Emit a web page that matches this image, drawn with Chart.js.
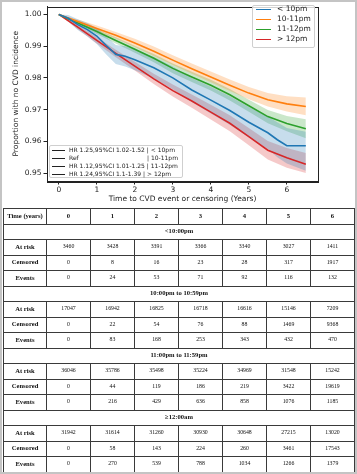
<!DOCTYPE html>
<html><head><meta charset="utf-8">
<script src="https://cdn.jsdelivr.net/npm/chart.js@4.4.0/dist/chart.umd.min.js"></script>
<style>
html,body{margin:0;padding:0;background:#fff;}
#wrap{position:relative;width:357px;height:474px;overflow:hidden;background:#fff;}
#c{position:absolute;left:0;top:0;}
.frame{position:absolute;left:0;top:0;width:357px;height:474px;box-sizing:border-box;border:2px solid #c4c4c4;pointer-events:none;}
.leg{position:absolute;background:rgba(255,255,255,0.8);border:1px solid #cfcfcf;border-radius:2px;box-sizing:border-box;font-family:"DejaVu Sans";color:#222;}
.leg .it{position:absolute;left:0;white-space:pre;line-height:1;}
.leg .ln{position:absolute;height:0;}
#tbl{position:absolute;left:3px;top:208px;width:351px;height:264px;border-collapse:collapse;table-layout:fixed;font-family:"Liberation Serif";color:#111;}
#tbl tr{height:15.5px;}
#tbl td{border:1px solid #3a3a3a;padding:0;text-align:center;vertical-align:middle;font-size:5.8px;line-height:1;height:1px;overflow:hidden;}
#tbl td.b{font-weight:bold;font-size:6.6px;}
</style></head>
<body>
<div id="wrap">
<canvas id="c" width="357" height="206"></canvas>
<div class="leg" id="legR" style="left:252px;top:5px;width:63px;height:43px;"></div>
<div class="leg" id="legL" style="left:49px;top:145px;width:134px;height:33px;"></div>
<table id="tbl"></table>
<div class="frame"></div>
</div>
<script>
// ---------- chart data ----------
const groups = ['< 10pm', '10-11pm', '11-12pm', '> 12pm'];
const hrLabels = ['HR 1.25,95%CI 1.02-1.52', 'Ref', 'HR 1.12,95%CI 1.01-1.25', 'HR 1.24,95%CI 1.1-1.39'];
const xTicks = [0, 1, 2, 3, 4, 5, 6];
const yTicks = [0.95, 0.96, 0.97, 0.98, 0.99, 1.00];

const timesBlue = [0, 0.25, 0.5, 0.75, 1, 1.25, 1.5, 1.75, 2, 2.5, 3, 3.5, 4, 4.5, 5, 5.5, 5.75, 6, 6.5];
const blueLine  = [1, .9988, .9968, .9952, .9932, .9902, .9874, .9868, .9857, .9832, .9800, .9762, .9730, .9697, .9660, .9627, .9605, .9586, .9586];
const blueUpper = [1, .9998, .9985, .9973, .9957, .9930, .9904, .9900, .9890, .9866, .9836, .9800, .9772, .9742, .9708, .9678, .9660, .9642, .9630];
const blueLower = [1, .9978, .9951, .9931, .9907, .9874, .9844, .9836, .9824, .9798, .9764, .9724, .9688, .9652, .9612, .9576, .9550, .9530, .9507];

const times = [0, 0.5, 1, 1.5, 2, 2.5, 3, 3.5, 4, 4.5, 5, 5.5, 6, 6.5];
const orangeLine  = [1, .9978, .9956, .9934, .9910, .9884, .9856, .9829, .9803, .9777, .9752, .9731, .9718, .9710];
const orangeUpper = [1, .9984, .9965, .9945, .9923, .9899, .9871, .9845, .9820, .9795, .9771, .9752, .9742, .9738];
const orangeLower = [1, .9972, .9947, .9923, .9897, .9869, .9841, .9813, .9786, .9759, .9733, .9710, .9694, .9682];

const greenLine  = [1, .9973, .9946, .9918, .9890, .9862, .9830, .9803, .9777, .9747, .9712, .9678, .9656, .9640];
const greenUpper = [1, .9979, .9954, .9928, .9901, .9875, .9845, .9819, .9794, .9765, .9731, .9699, .9680, .9670];
const greenLower = [1, .9967, .9938, .9908, .9879, .9849, .9815, .9787, .9760, .9729, .9693, .9657, .9632, .9610];

const redLine  = [1, .9960, .9918, .9877, .9837, .9797, .9760, .9727, .9692, .9657, .9615, .9572, .9548, .9528];
const redUpper = [1, .9967, .9928, .9889, .9851, .9813, .9779, .9748, .9715, .9682, .9642, .9601, .9579, .9563];
const redLower = [1, .9953, .9908, .9865, .9823, .9781, .9741, .9706, .9669, .9632, .9588, .9543, .9517, .9500];

// ---------- table data ----------
const tableYears = [0, 1, 2, 3, 4, 5, 6];
const tableGroups = ['<10:00pm', '10:00pm to 10:59pm', '11:00pm to 11:59pm', '\u226512:00am'];
const atRisk = [
  [3460, 3428, 3391, 3366, 3340, 3027, 1411],
  [17047, 16942, 16825, 16718, 16616, 15146, 7209],
  [36046, 35786, 35498, 35224, 34969, 31548, 15242],
  [31942, 31614, 31260, 30930, 30648, 27215, 13020]
];
const censored = [
  [0, 8, 16, 23, 28, 317, 1917],
  [0, 22, 54, 76, 88, 1469, 9368],
  [0, 44, 119, 186, 219, 3422, 19619],
  [0, 58, 143, 224, 260, 3461, 17543]
];
const events = [
  [0, 24, 53, 71, 92, 116, 132],
  [0, 83, 168, 253, 343, 432, 470],
  [0, 216, 429, 636, 858, 1076, 1185],
  [0, 270, 539, 788, 1034, 1266, 1379]
];

const colors = ['#1f77b4', '#ff7f0e', '#2ca02c', '#d62728'];
const fills = ['rgba(31,119,180,0.25)', 'rgba(255,127,14,0.25)', 'rgba(44,160,44,0.25)', 'rgba(214,39,40,0.25)'];

const series = [
  {t: timesBlue, line: blueLine, up: blueUpper, lo: blueLower},
  {t: times, line: orangeLine, up: orangeUpper, lo: orangeLower},
  {t: times, line: greenLine, up: greenUpper, lo: greenLower},
  {t: times, line: redLine, up: redUpper, lo: redLower}
];
const pts = (t, a) => t.map((x, i) => ({x: x, y: a[i]}));

const datasets = [];
series.forEach((s, k) => {
  datasets.push({label: groups[k] + ' lo', data: pts(s.t, s.lo), borderWidth: 0, borderColor: 'rgba(0,0,0,0)', pointRadius: 0, fill: false, order: 2});
  datasets.push({label: groups[k] + ' hi', data: pts(s.t, s.up), borderWidth: 0, borderColor: 'rgba(0,0,0,0)', pointRadius: 0, fill: '-1', backgroundColor: fills[k], order: 2});
});
series.forEach((s, k) => {
  datasets.push({label: groups[k], data: pts(s.t, s.line), borderWidth: 1.6, borderColor: colors[k], pointRadius: 0, fill: false, order: 0});
});

const frame = {
  id: 'frame',
  afterDraw(chart) {
    const a = chart.chartArea, ctx = chart.ctx;
    ctx.save();
    ctx.strokeStyle = '#222';
    ctx.lineWidth = 1;
    ctx.strokeRect(Math.round(a.left) + 0.5, Math.round(a.top) + 0.5, Math.round(a.right - a.left), Math.round(a.bottom - a.top));
    ctx.restore();
  }
};

const tickFont = {family: 'DejaVu Sans', size: 7.5};
new Chart(document.getElementById('c'), {
  type: 'line',
  data: {datasets: datasets},
  plugins: [frame],
  options: {
    responsive: false, animation: false, devicePixelRatio: 1,
    layout: {padding: {left: 0, top: 3, right: 39, bottom: 0}},
    plugins: {legend: {display: false}, tooltip: {enabled: false}},
    elements: {line: {tension: 0}},
    scales: {
      x: {
        type: 'linear', min: -0.31, max: 6.82,
        afterFit(s) { s.height = 25; },
        afterBuildTicks(s) { s.ticks = xTicks.map(v => ({value: v})); },
        ticks: {font: tickFont, color: '#222', padding: 1, maxRotation: 0, callback: v => String(v)},
        grid: {display: true, drawOnChartArea: false, drawTicks: true, tickLength: 3.5, color: '#222'},
        border: {display: true, color: '#222'},
        title: {display: true, text: 'Time to CVD event or censoring (Years)', font: tickFont, color: '#222', padding: {top: 0, bottom: 2}}
      },
      y: {
        type: 'linear', min: 0.9475, max: 1.0025,
        afterFit(s) { s.width = 47; },
        afterBuildTicks(s) { s.ticks = yTicks.map(v => ({value: v})); },
        ticks: {font: tickFont, color: '#222', padding: 2, callback: v => v.toFixed(2)},
        grid: {display: true, drawOnChartArea: false, drawTicks: true, tickLength: 3.5, color: '#222'},
        border: {display: true, color: '#222'},
        title: {display: true, text: 'Proportion with no CVD incidence', font: tickFont, color: '#222', padding: {top: 12, bottom: 0}}
      }
    }
  }
});

// ---------- legends ----------
const legR = document.getElementById('legR');
groups.forEach((g, k) => {
  const cy = 6.7 + k * 10 - 5;
  const ln = document.createElement('div');
  ln.className = 'ln';
  ln.style.cssText = `left:3px;top:${cy + 1}px;width:15px;border-top:1.5px solid ${colors[k]};`;
  legR.appendChild(ln);
  const it = document.createElement('div');
  it.className = 'it';
  it.style.cssText = `left:24px;top:${cy - 3}px;font-size:7.5px;`;
  it.textContent = g;
  legR.appendChild(it);
});
const legL = document.getElementById('legL');
hrLabels.forEach((h, k) => {
  const cy = 4.3 + k * 8;
  const ln = document.createElement('div');
  ln.className = 'ln';
  ln.style.cssText = `left:2px;top:${cy}px;width:13px;border-top:1.5px solid #222;`;
  legL.appendChild(ln);
  const it = document.createElement('div');
  it.className = 'it';
  it.style.cssText = `left:19px;top:${cy - 3.2}px;font-size:6px;`;
  if (h === 'Ref') {
    const a = document.createElement('span'); a.textContent = h;
    const b = document.createElement('span'); b.textContent = '| ' + groups[k];
    b.style.cssText = 'position:absolute;left:78px;top:0;';
    it.appendChild(a); it.appendChild(b);
  } else {
    it.textContent = h + ' | ' + groups[k];
  }
  legL.appendChild(it);
});

// ---------- table ----------
const tbl = document.getElementById('tbl');
const cg = document.createElement('colgroup');
[43, 44, 44, 44, 44, 44, 44, 44].forEach(w => { const c = document.createElement('col'); c.style.width = w + 'px'; cg.appendChild(c); });
tbl.appendChild(cg);
function addRow(cells, boldAll) {
  const tr = document.createElement('tr');
  cells.forEach((c, i) => {
    const td = document.createElement('td');
    td.textContent = c;
    if (boldAll || i === 0) td.className = 'b';
    tr.appendChild(td);
  });
  tbl.appendChild(tr);
}
addRow(['Time (years)'].concat(tableYears.map(String)), true);
tableGroups.forEach((g, k) => {
  const tr = document.createElement('tr');
  const td = document.createElement('td');
  td.colSpan = 8; td.className = 'b'; td.textContent = g;
  tr.appendChild(td); tbl.appendChild(tr);
  addRow(['At risk'].concat(atRisk[k].map(String)), false);
  addRow(['Censored'].concat(censored[k].map(String)), false);
  addRow(['Events'].concat(events[k].map(String)), false);
});
</script>
</body></html>
